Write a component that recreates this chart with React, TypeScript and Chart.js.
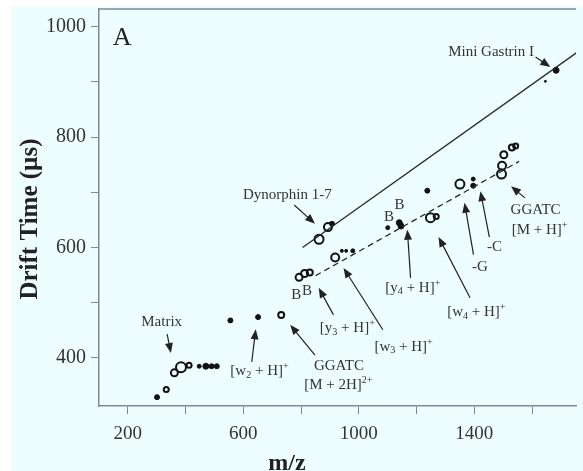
import React, { useEffect, useRef } from 'react';
import { Chart, registerables } from 'chart.js';
Chart.register(...registerables);

// ---- axes ----
const xTicks = [200, 400, 600, 800, 1000, 1200, 1400, 1600];
const xTickLabels = [200, 600, 1000, 1400];
const yTicks = [400, 500, 600, 700, 800, 900, 1000];
const yTickLabels = [400, 600, 800, 1000];
const xMin = 100, xMax = 1752, yMin = 313, yMax = 1032;

// ---- trend lines ----
const peptideLineMz = [805, 1760];
const peptideLineDrift = [600, 955];
const oligoLineMz = [850, 1555];
const oligoLineDrift = [549, 756];

// ---- open contour features ----
const openMz = [384, 361, 333, 412, 731, 793, 812, 830, 918, 862, 893, 1248, 1268, 1350, 1494, 1496, 1502, 1530, 1543];
const openDrift = [383, 373, 343, 387, 478, 546, 553, 555, 582, 615, 637, 654, 656, 715, 733, 748, 768, 781, 784];
const openSize = [5, 3.5, 2.5, 2.5, 3, 3.5, 3.5, 3, 4, 4.5, 4, 4.5, 2.5, 4.5, 4.5, 4, 3.5, 3, 2.5];

// ---- filled (small) features ----
const dotMz = [301, 447, 470, 490, 508, 555, 651, 941, 956, 979, 907, 1100, 1140, 1146, 1237, 1396, 1396, 1683, 1646];
const dotDrift = [329, 385, 385, 385, 385, 468, 474, 594, 594, 594, 643, 636, 645, 639, 703, 724, 712, 921, 901];
const dotSize = [2.5, 2, 3, 2.5, 2.5, 2.5, 2.5, 1.5, 1.5, 2, 2.5, 2, 3, 3, 2.5, 2, 2.5, 3, 1];

// ---- annotations (data coordinates) ----
type Seg = { t: string; k?: 'sub' | 'sup' };
const labelTexts: Seg[][] = [
  [{ t: 'Mini Gastrin I' }],
  [{ t: 'Dynorphin 1-7' }],
  [{ t: 'Matrix' }],
  [{ t: '[w' }, { t: '2', k: 'sub' }, { t: ' + H]' }, { t: '+', k: 'sup' }],
  [{ t: 'GGATC' }],
  [{ t: '[M + 2H]' }, { t: '2+', k: 'sup' }],
  [{ t: 'B' }],
  [{ t: 'B' }],
  [{ t: '[y' }, { t: '3', k: 'sub' }, { t: ' + H]' }, { t: '+', k: 'sup' }],
  [{ t: '[w' }, { t: '3', k: 'sub' }, { t: ' + H]' }, { t: '+', k: 'sup' }],
  [{ t: '[y' }, { t: '4', k: 'sub' }, { t: ' + H]' }, { t: '+', k: 'sup' }],
  [{ t: 'B' }],
  [{ t: 'B' }],
  [{ t: '[w' }, { t: '4', k: 'sub' }, { t: ' + H]' }, { t: '+', k: 'sup' }],
  [{ t: '-G' }],
  [{ t: '-C' }],
  [{ t: 'GGATC' }],
  [{ t: '[M + H]' }, { t: '+', k: 'sup' }],
];
const labelMz = [1458, 752, 317, 656, 931, 929, 783, 820, 960, 1155, 1187, 1104, 1141, 1407, 1419, 1470, 1612, 1626];
const labelDrift = [954, 695, 465, 376, 385, 351, 514, 522, 454, 420, 527, 655, 677, 483, 565, 601, 668, 632];

const arrowFromMz = [1612, 776, 336, 629, 848, 912, 1083, 1179, 1385, 1397, 1452, 1575];
const arrowFromDrift = [945, 677, 443, 393, 405, 478, 451, 545, 509, 587, 619, 690];
const arrowToMz = [1663, 848, 349, 643, 762, 861, 947, 1168, 1276, 1366, 1421, 1527];
const arrowToDrift = [927, 643, 409, 452, 460, 527, 563, 632, 619, 681, 702, 711];

const panelLetter = 'A';
const panelMz = 148, panelDrift = 967;

const FONT = "'Liberation Serif', 'DejaVu Serif', serif";
const AXIS_COLOR = '#7f87a0';
const TEXT = '#333';

function drawRich(ctx: CanvasRenderingContext2D, segs: Seg[], cx: number, cy: number, size: number) {
  const small = size * 0.68;
  let total = 0;
  const widths = segs.map((s) => {
    ctx.font = `${s.k ? small : size}px ${FONT}`;
    const w = ctx.measureText(s.t).width;
    total += w;
    return w;
  });
  let x = cx - total / 2;
  ctx.textBaseline = 'middle';
  ctx.textAlign = 'left';
  segs.forEach((s, i) => {
    ctx.font = `${s.k ? small : size}px ${FONT}`;
    const dy = s.k === 'sub' ? size * 0.25 : s.k === 'sup' ? -size * 0.3 : 0;
    ctx.fillText(s.t, x, cy + dy);
    x += widths[i];
  });
}

function drawArrow(ctx: CanvasRenderingContext2D, x1: number, y1: number, x2: number, y2: number) {
  const ang = Math.atan2(y2 - y1, x2 - x1);
  const len = 10, hw = 4;
  ctx.beginPath();
  ctx.moveTo(x1, y1);
  ctx.lineTo(x2 - Math.cos(ang) * len * 0.8, y2 - Math.sin(ang) * len * 0.8);
  ctx.stroke();
  ctx.beginPath();
  ctx.moveTo(x2, y2);
  ctx.lineTo(x2 - Math.cos(ang) * len - Math.sin(ang) * hw, y2 - Math.sin(ang) * len + Math.cos(ang) * hw);
  ctx.lineTo(x2 - Math.cos(ang) * len + Math.sin(ang) * hw, y2 - Math.sin(ang) * len - Math.cos(ang) * hw);
  ctx.closePath();
  ctx.fill();
}

const decor = {
  id: 'decor',
  beforeDraw(chart: any) {
    const { ctx, width, height } = chart;
    ctx.save();
    ctx.fillStyle = '#ffffff';
    ctx.fillRect(0, 0, width, height);
    ctx.fillStyle = '#eefefe';
    ctx.fillRect(11, 6, width - 11, height - 6);
    ctx.restore();
  },
  afterDraw(chart: any) {
    const { ctx, chartArea } = chart;
    const xs = chart.scales.x, ys = chart.scales.y;
    ctx.save();
    ctx.strokeStyle = AXIS_COLOR;
    ctx.lineWidth = 1.5;
    ctx.beginPath();
    ctx.moveTo(chartArea.left, chartArea.top);
    ctx.lineTo(chartArea.right, chartArea.top);
    ctx.stroke();

    ctx.fillStyle = '#222';
    ctx.font = `26px ${FONT}`;
    ctx.textAlign = 'left';
    ctx.textBaseline = 'alphabetic';
    ctx.fillText(panelLetter, xs.getPixelForValue(panelMz), ys.getPixelForValue(panelDrift));

    ctx.fillStyle = TEXT;
    labelTexts.forEach((segs, i) => {
      drawRich(ctx, segs, xs.getPixelForValue(labelMz[i]), ys.getPixelForValue(labelDrift[i]), 15);
    });
    ctx.strokeStyle = '#222';
    ctx.fillStyle = '#222';
    ctx.lineWidth = 1.2;
    arrowFromMz.forEach((_, i) => {
      drawArrow(ctx,
        xs.getPixelForValue(arrowFromMz[i]), ys.getPixelForValue(arrowFromDrift[i]),
        xs.getPixelForValue(arrowToMz[i]), ys.getPixelForValue(arrowToDrift[i]));
    });

    ctx.fillStyle = '#222';
    ctx.font = `bold 24px ${FONT}`;
    ctx.textAlign = 'center';
    ctx.textBaseline = 'alphabetic';
    ctx.fillText('m/z', 287, 470);
    ctx.save();
    ctx.translate(31, 219);
    ctx.rotate(-Math.PI / 2);
    ctx.font = `bold 25px ${FONT}`;
    ctx.textBaseline = 'middle';
    ctx.fillText('Drift Time (\u00b5s)', 0, 0);
    ctx.restore();
    ctx.restore();
  },
};

export default function App() {
  const ref = useRef<HTMLCanvasElement>(null);
  useEffect(() => {
    if (!ref.current) return;
    const chart = new Chart(ref.current, {
      type: 'scatter',
      data: {
        datasets: [
          {
            type: 'line',
            data: peptideLineMz.map((x, i) => ({ x, y: peptideLineDrift[i] })),
            borderColor: '#2a2a2a',
            borderWidth: 1.3,
            pointRadius: 0,
          },
          {
            type: 'line',
            data: oligoLineMz.map((x, i) => ({ x, y: oligoLineDrift[i] })),
            borderColor: '#2a2a2a',
            borderWidth: 1.3,
            borderDash: [6, 4],
            pointRadius: 0,
          },
          {
            data: openMz.map((x, i) => ({ x, y: openDrift[i] })),
            pointRadius: openSize,
            borderColor: '#111',
            borderWidth: 2,
            backgroundColor: 'rgba(0,0,0,0)',
          },
          {
            data: dotMz.map((x, i) => ({ x, y: dotDrift[i] })),
            pointRadius: dotSize,
            borderColor: '#111',
            borderWidth: 1,
            backgroundColor: '#111',
          },
        ] as any,
      },
      options: {
        animation: false,
        responsive: false,
        devicePixelRatio: 1,
        layout: { padding: { top: 9, left: 0, right: 0, bottom: 0 } },
        plugins: { legend: { display: false }, tooltip: { enabled: false } },
        scales: {
          x: {
            type: 'linear',
            min: xMin,
            max: xMax,
            afterBuildTicks: (s: any) => { s.ticks = xTicks.map((v) => ({ value: v })); },
            afterFit: (s: any) => { s.height = 65; s.paddingLeft = 0; s.paddingRight = 0; },
            ticks: {
              autoSkip: false,
              maxRotation: 0,
              padding: 9,
              color: TEXT,
              font: { family: FONT, size: 19 },
              callback: (v: any) => (xTickLabels.includes(Number(v)) ? String(v) : ''),
            },
            grid: { drawOnChartArea: false, drawTicks: true, tickLength: 8, color: AXIS_COLOR, lineWidth: 1 },
            border: { display: true, color: AXIS_COLOR, width: 1.5 },
          },
          y: {
            type: 'linear',
            min: yMin,
            max: yMax,
            afterBuildTicks: (s: any) => { s.ticks = yTicks.map((v) => ({ value: v })); },
            afterFit: (s: any) => { s.width = 99; s.paddingTop = 0; s.paddingBottom = 0; },
            ticks: {
              autoSkip: false,
              padding: 5,
              color: TEXT,
              font: { family: FONT, size: 20 },
              callback: (v: any) => (yTickLabels.includes(Number(v)) ? String(v) : ''),
            },
            grid: { drawOnChartArea: false, drawTicks: true, tickLength: 8, color: AXIS_COLOR, lineWidth: 1 },
            border: { display: true, color: AXIS_COLOR, width: 1.5 },
          },
        },
      } as any,
      plugins: [decor],
    });
    return () => chart.destroy();
  }, []);
  return (
    <div style={{ position: 'absolute', left: 0, top: 0, width: 583, height: 471 }}>
      <canvas ref={ref} width={583} height={471} style={{ display: 'block' }} />
    </div>
  );
}
